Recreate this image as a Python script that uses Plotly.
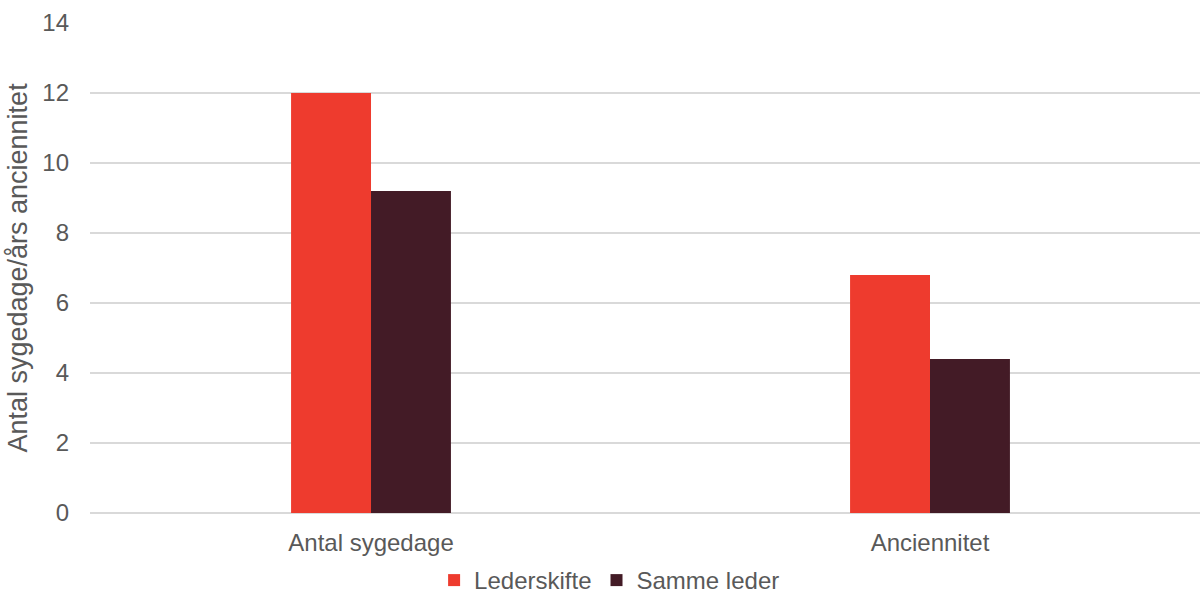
import plotly.graph_objects as go

categories = ["Antal sygedage", "Anciennitet"]
lederskifte = [12.0, 6.8]
samme_leder = [9.2, 4.4]
y_ticks = [0, 2, 4, 6, 8, 10, 12, 14]

font_color = "#595959"
font_family = "Liberation Sans, Arial, sans-serif"
fs = 24

fig = go.Figure()
fig.add_trace(go.Bar(x=categories, y=lederskifte, name="Lederskifte",
                     marker=dict(color="#EE3B2E", line=dict(width=0))))
fig.add_trace(go.Bar(x=categories, y=samme_leder, name="Samme leder",
                     marker=dict(color="#431B26", line=dict(width=0))))

fig.update_layout(
    width=1200, height=603,
    margin=dict(l=90, r=0, t=23, b=90, pad=0),
    paper_bgcolor="white", plot_bgcolor="white",
    barmode="group", bargap=0.714, bargroupgap=0,
    font=dict(family=font_family, size=fs, color=font_color),
    showlegend=True,
    legend=dict(orientation="h", x=0.508, xanchor="center", xref="container",
                y=-0.01, yanchor="bottom", yref="container",
                font=dict(size=fs, color=font_color),
                itemwidth=30, traceorder="normal", borderwidth=0),
    xaxis=dict(range=[-0.5027, 1.483], showline=False, showgrid=False,
               ticks="", ticklabelstandoff=13, automargin=False,
               tickfont=dict(size=fs, color=font_color)),
    yaxis=dict(range=[0, 14], tickvals=y_ticks, showgrid=True,
               gridcolor="#D9D9D9", gridwidth=1.5, zeroline=True,
               zerolinecolor="#D9D9D9", zerolinewidth=1.5,
               ticks="", ticklabelstandoff=20, automargin=False,
               tickfont=dict(size=fs, color=font_color),
               title=dict(text="Antal sygedage/års anciennitet",
                          font=dict(size=27, color=font_color), standoff=6)),
)

fig.write_html("out.html")
